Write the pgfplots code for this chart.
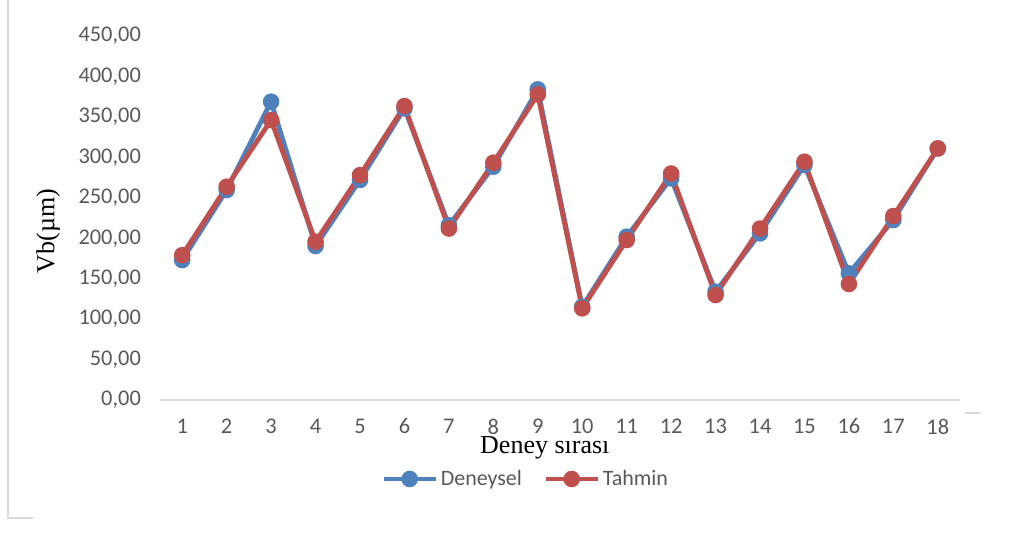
\documentclass[border=0pt]{standalone}
\usepackage{pgfplots}
\pgfplotsset{compat=1.18}
\usepackage{fontspec}
\setmainfont{Liberation Serif}
\newfontfamily\calibri{Carlito}
\definecolor{cblue}{HTML}{4F81BD}
\definecolor{cred}{HTML}{C0504D}
\definecolor{cgray}{HTML}{595959}
\definecolor{cline}{HTML}{D9D9D9}
\begin{document}
\begin{tikzpicture}
\path[use as bounding box] (-120pt,-107.25pt) rectangle (636.75pt,300pt);
\begin{axis}[
  at={(0,0)}, anchor=south west,
  scale only axis, width=600pt, height=273pt,
  xmin=0.5, xmax=18.5, ymin=0, ymax=450,
  xtick={1,...,18}, ytick={0,50,...,450},
  axis x line*=bottom, axis y line*=left,
  x axis line style={draw=cline, line width=1.1pt, -},
  y axis line style={draw=none, -},
  major tick length=0pt,
  /pgf/number format/assume math mode=true,
  ticklabel style={font=\calibri\fontsize{16.8}{20}\selectfont, text=cgray},
  xticklabel style={yshift=-10.5pt},
  yticklabel style={xshift=-10.8pt, /pgf/number format/.cd, fixed, fixed zerofill, precision=2, use comma, 1000 sep={}},
  xlabel={Deney sırası},
  ylabel={Vb(µm)},
  label style={font=\fontsize{19.5}{23}\selectfont, text=black},
  xlabel style={at={(axis description cs:0.481,-0.131)}, anchor=center},
  ylabel style={at={(axis description cs:-0.14,0.464)}, anchor=center},
  legend columns=2,
  legend style={draw=none, fill=none, at={(0.4575,-0.217)}, anchor=center,
    font=\calibri\fontsize{16.5}{19}\selectfont, text=cgray,
    /tikz/every even column/.append style={column sep=14pt},
    inner sep=0pt},
  legend image code/.code={\draw[#1, mark repeat=2, mark phase=2] plot coordinates {(0pt,0pt) (19.5pt,0pt) (39pt,0pt)};},
  clip=false,
]
\addplot[cblue, line width=3.6pt, mark=*, mark size=4.4pt, mark options={draw=none, fill=cblue}] coordinates {
(1,173) (2,259.6) (3,368.8) (4,190.4) (5,272) (6,360.5) (7,216) (8,288.4) (9,384)
(10,115.4) (11,201.9) (12,274) (13,133.9) (14,206) (15,290.5) (16,156.6) (17,222.5) (18,311)
};
\addlegendentry{Deneysel}
\addplot[cred, line width=3.6pt, mark=*, mark size=4.4pt, mark options={draw=none, fill=cred}] coordinates {
(1,179) (2,263.7) (3,346) (4,195.7) (5,278) (6,363.4) (7,212) (8,293.4) (9,377.8)
(10,113.3) (11,197.8) (12,280) (13,129.8) (14,212) (15,294.6) (16,143.4) (17,227.4) (18,311)
};
\addlegendentry{Tahmin}
\end{axis}
\draw[cline, line width=1pt] (-114pt,300pt) -- (-114pt,-88.5pt) -- (-95.25pt,-88.5pt);
\draw[cline, line width=1pt] (603.75pt,-9.75pt) -- (615pt,-9.75pt);
\end{tikzpicture}
\end{document}
